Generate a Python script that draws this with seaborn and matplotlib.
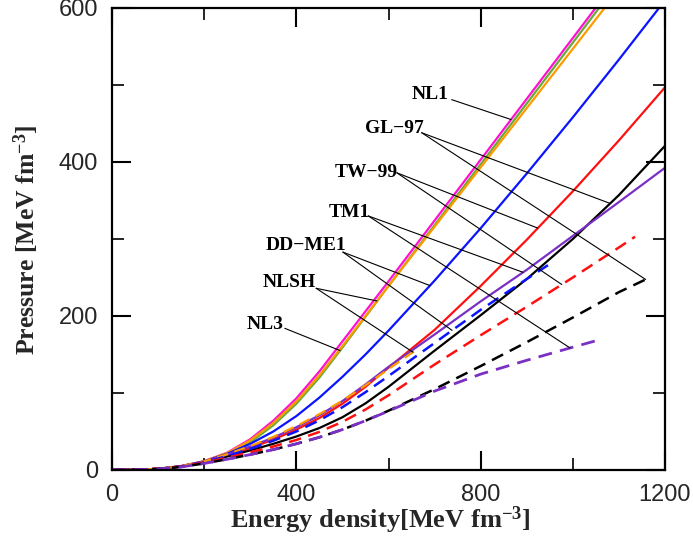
import numpy as np
import pandas as pd
import matplotlib
matplotlib.use("Agg")
import matplotlib.pyplot as plt
import seaborn as sns
from matplotlib.ticker import MultipleLocator

# ---------------- data ----------------
E_a = [0, 50, 100, 150, 200, 250, 300, 350, 400, 450, 500, 550, 600, 700, 800, 900, 1000, 1100]
P_NL1 = [0, 0.3, 1.5, 5, 11.5, 22.5, 40, 64, 93, 128, 167, 206, 245, 324, 403, 482, 561, 640]
P_NL3 = [0, 0.3, 1.4, 4.5, 10.5, 20.5, 36, 58, 86, 120, 159, 199, 239, 318, 397, 476, 555, 634]
P_NLSH = [0, 0.3, 1.5, 5, 11.5, 22, 38.5, 61, 89, 123, 161, 200, 239, 316, 393, 470, 547, 624]

E_b = [0, 50, 100, 150, 200, 250, 300, 350, 400, 450, 500, 550, 600, 700, 800, 900, 1000, 1100, 1200]
P_DDME1 = [0, 0.3, 1.5, 5, 11, 21, 34, 50, 70, 94, 121, 150, 181, 246, 314, 385, 458, 533, 610]
P_TW99 = [0, 0.3, 1.5, 4.5, 10.5, 19, 28.5, 39.5, 52.5, 67.5, 86, 108, 133, 182, 239, 299, 362, 428, 497]
P_TM1 = [0, 0.3, 1.5, 5, 11, 20, 30.5, 42, 55.5, 71, 89.5, 111, 134, 176, 219, 260, 304, 348, 392.5]
P_GL97 = [0, 0.3, 1.5, 4.5, 10, 17.5, 25.5, 34, 43.5, 54.5, 68.5, 86.5, 108, 155, 201, 248, 300, 357, 421]

E_DDME1_d = [0, 50, 100, 150, 200, 250, 300, 350, 400, 450, 500, 550, 600, 700, 800, 900, 946]
P_DDME1_d = [0, 0.3, 1.5, 4.5, 10, 18, 27.5, 38, 50, 64.5, 81.5, 101, 122, 165, 208, 248, 266]
E_TW99_d = [0, 50, 100, 150, 200, 250, 300, 350, 400, 450, 500, 550, 600, 700, 800, 900, 1000, 1100, 1135]
P_TW99_d = [0, 0.3, 1.5, 4.5, 9.5, 16, 23, 30.5, 39, 49.5, 62.5, 78.5, 97, 137, 175, 212, 250, 289, 303]
E_GL97_d = [0, 50, 100, 150, 200, 250, 300, 350, 400, 450, 500, 550, 600, 700, 800, 900, 1000, 1100, 1160]
P_GL97_d = [0, 0.3, 1.4, 4, 8.5, 14, 20, 26.5, 34, 42.5, 52.5, 64, 77, 105, 135, 166, 198, 231, 248]
E_TM1_d = [0, 50, 100, 150, 200, 250, 300, 350, 400, 450, 500, 550, 600, 700, 800, 900, 1000, 1060]
P_TM1_d = [0, 0.3, 1.4, 4, 8.5, 14, 20, 26.5, 34, 42.5, 52.5, 64, 76.5, 102.5, 124.5, 142.5, 159.5, 169.5]
E_NLSH_d = [0, 50, 100, 150, 200, 250, 300, 350, 400, 450, 500, 550, 600, 660]
P_NLSH_d = [0, 0.3, 1.5, 5, 11, 20.5, 31, 43, 57, 72.5, 90, 110, 131, 156]

x_ticks = [0, 400, 800, 1200]
y_ticks = [0, 200, 400, 600]

# label texts, positions and leader line start points (data units)
labels = ["NL1", "GL\u221297", "TW\u221299", "TM1", "DD\u2212ME1", "NLSH", "NL3"]
label_pos = [(690, 488), (612, 444), (551, 387), (516, 334), (421, 291), (384, 243), (332, 189)]
leader_start = [(737, 481), (672, 438), (618, 386), (556, 330), (501, 283), (443, 236), (375, 184)]

# ---------------- style ----------------
sns.set_theme(style="ticks")
plt.rcParams['font.family'] = ['Liberation Sans', 'DejaVu Sans']
plt.rcParams['mathtext.fontset'] = 'custom'
plt.rcParams['mathtext.rm'] = 'Liberation Serif:bold'
plt.rcParams['mathtext.bf'] = 'Liberation Serif:bold'
plt.rcParams['mathtext.it'] = 'Liberation Serif:bold'

fig = plt.figure(figsize=(6.93, 5.44), dpi=100)
ax = fig.add_axes([112 / 693, 1 - 470 / 544, (665 - 112) / 693, (470 - 8) / 544])

magenta = "#ff10d0"
green = "#6aaa38"
orange = "#ff9a00"
blue = "#0a14ff"
red = "#ff1010"
purple = "#7a30c4"
dash = (0, (5, 3))

series = [
    (E_a, P_NL1, magenta, "-", 1.6),
    (E_a, P_NL3, green, "-", 1.6),
    (E_a, P_NLSH, orange, "-", 1.6),
    (E_b, P_DDME1, blue, "-", 1.6),
    (E_b, P_TW99, red, "-", 1.6),
    (E_b, P_GL97, "black", "-", 1.6),
    (E_b, P_TM1, purple, "-", 1.6),
    (E_NLSH_d, P_NLSH_d, orange, dash, 1.6),
    (E_DDME1_d, P_DDME1_d, blue, dash, 1.8),
    (E_TW99_d, P_TW99_d, red, dash, 1.8),
    (E_GL97_d, P_GL97_d, "black", dash, 1.8),
    (E_TM1_d, P_TM1_d, purple, dash, 2.0),
]
for ex, py, c, ls, lw in series:
    sns.lineplot(x=ex, y=py, ax=ax, color=c, linestyle=ls, lw=lw)

# leader targets: (series x, series y, energy where the line touches)
targets = [
    [(E_a, P_NL1, 866)],
    [(E_b, P_GL97, 1081), (E_GL97_d, P_GL97_d, 1158)],
    [(E_b, P_TW99, 924), (E_TW99_d, P_TW99_d, 976)],
    [(E_b, P_TM1, 892), (E_TM1_d, P_TM1_d, 994)],
    [(E_b, P_DDME1, 690), (E_DDME1_d, P_DDME1_d, 738)],
    [(E_a, P_NLSH, 575), (E_NLSH_d, P_NLSH_d, 653)],
    [(E_a, P_NL3, 495)],
]
for lab, (tx, ty), (sx, sy), tg in zip(labels, label_pos, leader_start, targets):
    ax.text(tx, ty, lab, ha="center", va="center", fontsize=14, fontweight="bold",
            family=["Liberation Serif", "DejaVu Serif"], color="black")
    for ex, py, e in tg:
        ax.plot([sx, e], [sy, np.interp(e, ex, py)], color="black", lw=0.8)

ax.set_xlim(0, 1200)
ax.set_ylim(0, 600)
ax.set_xticks(x_ticks)
ax.set_yticks(y_ticks)
ax.xaxis.set_minor_locator(MultipleLocator(200))
ax.yaxis.set_minor_locator(MultipleLocator(100))
ax.tick_params(which="both", direction="in", top=True, right=True, color="black")
ax.tick_params(which="major", length=14, width=1.5, labelsize=17, pad=10)
ax.tick_params(which="minor", length=8.5, width=1.2)
for s in ax.spines.values():
    s.set_linewidth(1.6)
    s.set_color("black")

ax.set_xlabel(r"Energy density[MeV fm$^{-3}$]", fontsize=19, fontweight="bold",
              family="Liberation Serif")
ax.set_ylabel(r"Pressure [MeV fm$^{-3}$]", fontsize=18.5, fontweight="bold",
              family="Liberation Serif")
ax.xaxis.set_label_coords(0.485, -0.075)
ax.yaxis.set_label_coords(-0.128, 0.498)

fig.savefig("out.png", dpi=100)
